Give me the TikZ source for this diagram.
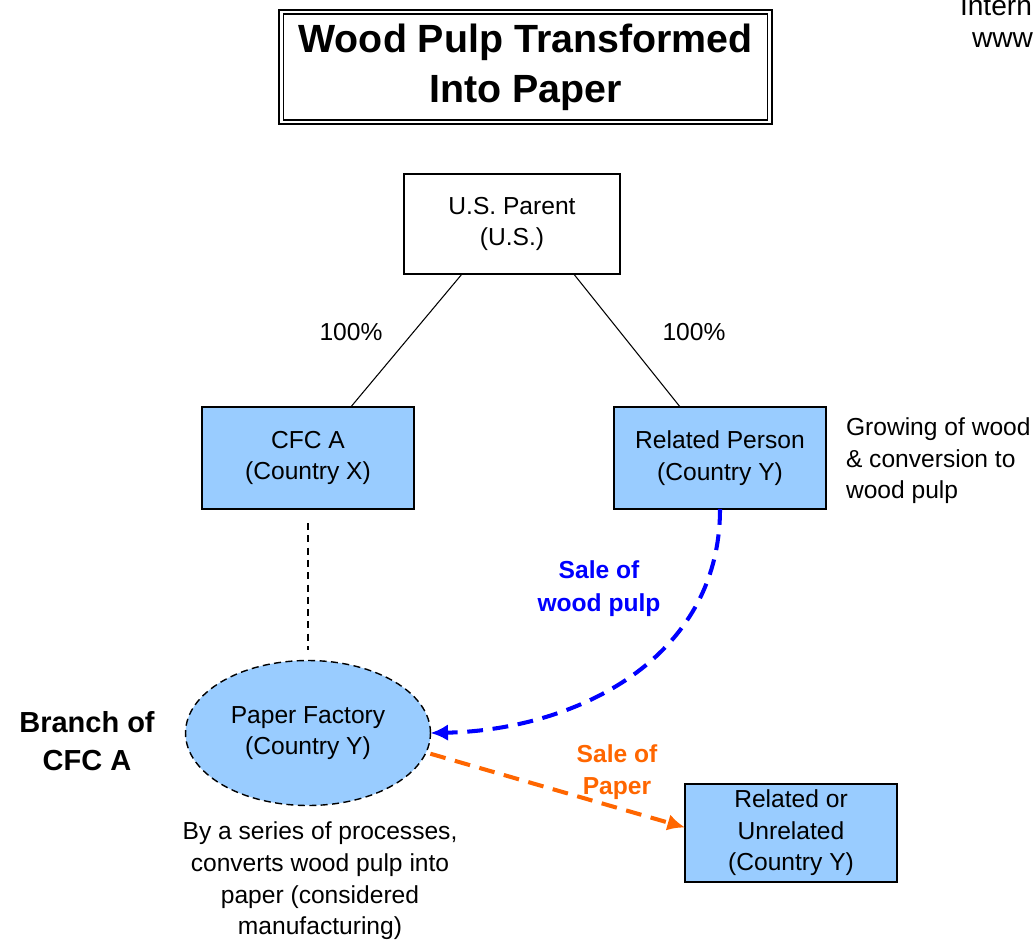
\documentclass[tikz,border=0pt]{standalone}
\usepackage{fontspec}
\setmainfont{Liberation Sans}
\usepackage{xcolor}
\usetikzlibrary{positioning, shapes, arrows, arrows.meta}

\definecolor{boxblue}{HTML}{99CCFF}
\definecolor{saleblue}{HTML}{0000FF}
\definecolor{saleorange}{HTML}{FF6600}

\begin{document}
\begin{tikzpicture}[x=0.02cm, y=-0.02cm,
  every node/.style={outer sep=0pt},
  body/.style={font=\fontsize{14pt}{18pt}\selectfont, align=center},
  entity/.style={draw, rectangle, line width=1pt, body, minimum width=4.24cm, minimum height=2.04cm},
  sale/.style={dashed, line width=2.3pt, dash pattern=on 9pt off 5.5pt, -{Latex[length=10pt,width=9.5pt]}}
]
  \useasboundingbox (0,0) rectangle (1034,940);

  % title
  \node (title) [draw, rectangle, line width=1.2pt, minimum width=9.86cm, minimum height=2.28cm,
    font=\fontsize{22.4pt}{28.3pt}\selectfont\bfseries, align=center] at (525.5,67) {
    Wood Pulp Transformed \\ Into Paper
  };
  \draw [line width=0.6pt] ([shift={(4,4)}]title.north west) rectangle ([shift={(-4,-4)}]title.south east);

  \node (web1) [anchor=base west, inner sep=0pt, font=\fontsize{16pt}{20pt}\selectfont] at (960,15) {Intern};
  \node (web2) [anchor=base west, inner sep=0pt, font=\fontsize{16pt}{20pt}\selectfont] at (972,47) {www};

  % entities
  \node (parent) [entity, fill=white, minimum height=2cm, minimum width=4.32cm] at (512,224) {
    U.S. Parent \\ (U.S.)
  };

  \node (cfca) [entity, fill=boxblue] at (308,458) {
    CFC A \\ (Country X)
  };

  \node (related) [entity, fill=boxblue] at (720,458) {
    Related Person \\ (Country Y)
  };

  \node (factory) [draw, ellipse, dashed, dash pattern=on 4pt off 2.5pt, line width=0.8pt, fill=boxblue,
    body, inner sep=0pt, minimum width=4.9cm, minimum height=2.9cm] at (308,733) {
    Paper Factory \\ (Country Y)
  };

  \node (buyer) [entity, fill=boxblue, minimum height=1.96cm] at (791,833) {
    Related or \\ Unrelated \\ (Country Y)
  };

  % annotations
  \node (branch) [font=\fontsize{16.5pt}{21.5pt}\selectfont\bfseries, align=center] at (87,741) {
    Branch of \\ CFC A
  };

  \node (growing) [body, align=left, anchor=west, inner sep=0pt] at (846,461) {
    Growing of wood \\ \& conversion to \\ wood pulp
  };

  \node (process) [body] at (320,881) {
    By a series of processes, \\ converts wood pulp into \\ paper (considered \\ manufacturing)
  };

  \node (pct1) [body] at (351,332) {100\%};
  \node (pct2) [body] at (694,332) {100\%};

  \node (pulplabel) [body, font=\fontsize{14pt}{18.7pt}\selectfont\bfseries, text=saleblue] at (599,589) {
    Sale of \\ wood pulp
  };

  \node (paperlabel) [body, font=\fontsize{14pt}{18pt}\selectfont\bfseries, text=saleorange] at (617,772) {
    Sale of \\ Paper
  };

  % connectors
  \draw [line width=0.6pt] (parent.225) -- (cfca.50.5);
  \draw [line width=0.6pt] (parent.-39.3) -- (related.128);
  \draw [dashed, line width=0.7pt, dash pattern=on 4pt off 3pt, shorten <=8, shorten >=6] (cfca.south) -- (factory.north);

  \draw [sale, saleblue] (related.south) .. controls +(0,150) and +(145,-3) .. (factory.east);
  \draw [sale, saleorange] ([shift={(5,0)}]factory.-10) -- (buyer.177);
\end{tikzpicture}
\end{document}
